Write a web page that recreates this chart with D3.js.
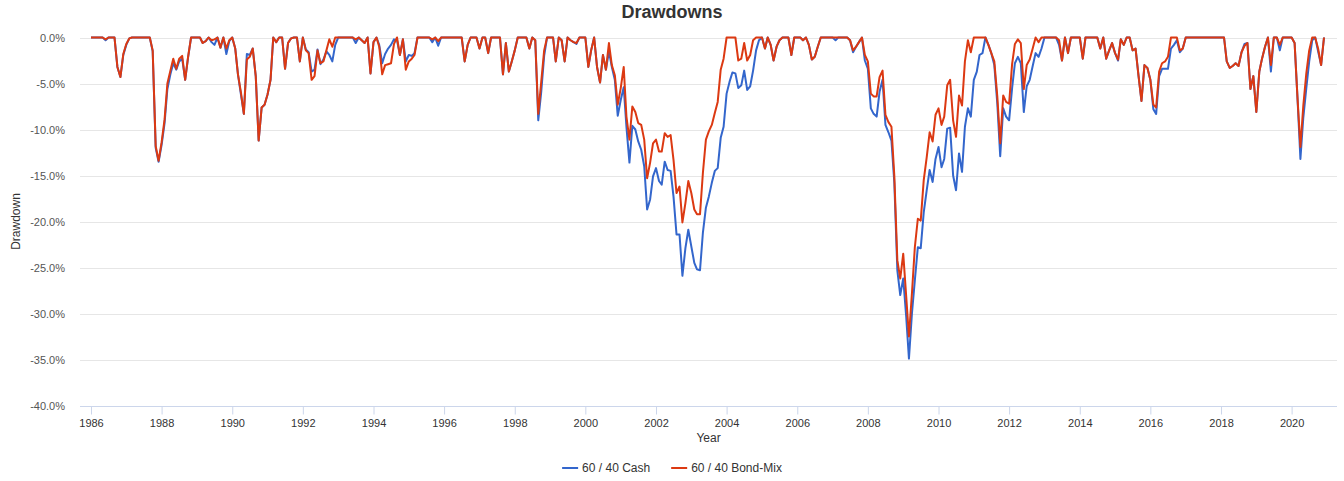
<!DOCTYPE html>
<html>
<head>
<meta charset="utf-8">
<script src="https://cdn.jsdelivr.net/npm/d3@7"></script>
<style>
  body { margin: 0; background: #fff; }
  svg { display: block; font-family: "Liberation Sans", Arial, Helvetica, sans-serif; }
</style>
</head>
<body>
<svg id="chart" width="1344" height="481"></svg>
<script>
// monthly drawdowns in %, Jan 1986 .. Dec 2020, one row per year
const startYear = 1986;
const seriesNames = ["60 / 40 Cash", "60 / 40 Bond-Mix"];
const yTicks = [0, -5, -10, -15, -20, -25, -30, -35, -40];
const xTickYears = [1986, 1988, 1990, 1992, 1994, 1996, 1998, 2000, 2002, 2004, 2006, 2008, 2010, 2012, 2014, 2016, 2018, 2020];

const cash = [
  0, 0, 0, 0, 0, -0.3, 0, 0, 0, -3.2, -4.3, -1.9,
  -0.8, -0.1, 0, 0, 0, 0, 0, 0, 0, -1.5, -12.0, -13.5,
  -11.7, -9.3, -5.6, -4.0, -2.8, -3.5, -2.6, -2.3, -4.6, -2.2, 0, 0,
  0, 0, -0.6, -0.4, 0, -0.5, -0.8, 0, -1.1, 0, -1.8, -0.4,
  0, -1.2, -4.0, -6.2, -8.3, -1.8, -1.9, -1.2, -4.2, -11.2, -7.6, -7.3,
  -6.2, -4.6, 0, -0.5, 0, 0, -3.4, -0.6, -0.1, 0, 0, -2.6,
  0, -1.3, -1.6, -3.7, -3.5, -1.3, -2.9, -2.4, -1.5, -1.9, -2.6, -0.8,
  0, 0, 0, 0, 0, 0, -0.6, 0, -0.3, -0.6, 0, -3.9,
  -0.5, 0, -0.8, -2.8, -1.8, -1.2, -0.8, -0.2, -0.3, -1.9, -0.2, -2.6,
  -1.9, -2.0, -1.7, 0, 0, 0, 0, 0, -0.5, 0, -0.9, 0,
  0, 0, 0, 0, 0, 0, 0, -2.6, -0.8, 0, 0, 0,
  -1.2, 0, 0, -1.7, 0, 0, 0, 0, -4.0, -0.6, -3.7, -2.6,
  -1.4, 0, 0, 0, 0, -1.2, 0, -0.3, -9.0, -6.0, -2.0, 0,
  0, 0, -2.6, 0, -0.3, -2.6, 0, -0.3, -0.5, -0.7, 0, 0,
  0, -3.2, -1.4, 0, -3.2, -4.9, -1.9, -3.5, -1.5, -3.2, -4.6, -8.5,
  -6.8, -5.4, -9.7, -13.6, -9.6, -10.0, -11.3, -12.2, -14.0, -18.7, -17.6, -15.1,
  -14.2, -15.6, -16.0, -13.5, -14.4, -14.5, -17.3, -21.4, -21.4, -25.9, -22.9, -20.9,
  -22.7, -24.5, -25.2, -25.3, -21.2, -18.5, -17.3, -15.8, -14.5, -14.2, -10.9, -9.7,
  -6.1, -4.8, -3.8, -3.9, -5.5, -5.2, -3.6, -5.7, -5.3, -3.6, -1.4, -0.3,
  0, -1.2, 0, -0.8, -2.5, -1.0, -0.3, 0, 0, 0, -1.9, 0,
  0, 0, -0.3, 0, -0.8, -2.4, -2.1, -1.0, 0, 0, 0, 0,
  0, -0.3, 0, 0, 0, 0, -0.3, -1.6, -1.0, -0.5, 0, -2.5,
  -3.4, -7.7, -8.3, -8.6, -5.9, -4.6, -9.5, -10.3, -11.2, -15.8, -25.3, -28.0,
  -26.2, -30.4, -34.9, -30.0, -26.4, -22.8, -22.9, -19.0, -16.6, -14.4, -15.7, -13.2,
  -11.9, -14.1, -13.2, -9.9, -9.8, -15.0, -16.6, -12.6, -14.6, -9.7, -7.7, -8.6,
  -4.6, -3.7, -1.9, -1.7, 0, -0.8, -1.7, -3.0, -7.2, -12.9, -7.7, -8.6,
  -9.0, -5.5, -2.8, -2.1, -2.8, -8.1, -5.3, -4.6, -3.1, -1.7, -2.1, -1.2,
  0, 0, 0, 0, 0, -0.8, -2.5, 0, -1.7, 0, 0, 0,
  0, -2.3, 0, 0, 0, 0, 0, -1.2, 0, -2.3, -1.4, -0.6,
  -1.7, -2.5, -0.2, -0.8, 0, 0, -1.4, -1.2, -4.2, -6.9, -3.0, -3.3,
  -4.6, -7.8, -8.3, -4.2, -3.4, -3.4, -3.4, -1.2, -0.8, -0.3, -1.6, -1.2,
  0, 0, 0, 0, 0, 0, 0, 0, 0, 0, 0, 0,
  0, 0, -2.6, -3.3, -3.1, -2.8, -3.1, -1.6, -0.7, -0.6, -5.6, -4.2,
  -8.1, -3.7, -2.3, -1.0, 0, -3.7, 0, 0, -1.4, 0, 0, 0,
  0, -0.6, -6.4, -13.2, -8.7, -5.5, -2.6, -0.3, 0, -1.5, -3.0, 0
];

const bondMix = [
  0, 0, 0, 0, 0, -0.2, 0, 0, 0, -3.2, -4.3, -1.8,
  -0.7, -0.1, 0, 0, 0, 0, 0, 0, 0, -1.4, -11.8, -13.4,
  -11.4, -8.9, -5.0, -3.6, -2.3, -3.4, -2.3, -2.0, -4.6, -2.1, 0, 0,
  0, 0, -0.6, -0.4, 0, -0.3, -0.2, 0, -1.1, 0, -1.2, -0.3,
  0, -1.2, -4.0, -6.0, -8.3, -2.4, -2.1, -1.2, -4.2, -11.2, -7.6, -7.3,
  -6.2, -4.6, 0, -0.5, 0, 0, -3.4, -0.6, -0.1, 0, 0, -2.6,
  0, -1.4, -1.7, -4.6, -4.2, -1.4, -2.8, -2.6, -1.4, -0.2, -1.0, 0,
  0, 0, 0, 0, 0, 0, -0.2, 0, -0.3, -0.6, 0, -3.9,
  -0.5, 0, -1.0, -4.0, -3.0, -2.9, -2.8, -0.7, 0, -1.9, -0.2, -3.5,
  -2.6, -2.3, -1.9, 0, 0, 0, 0, 0, -0.2, 0, -0.4, 0,
  0, 0, 0, 0, 0, 0, 0, -2.6, -0.8, 0, 0, 0,
  -1.2, 0, 0, -1.7, 0, 0, 0, 0, -4.0, -0.6, -3.7, -2.6,
  -1.4, 0, 0, 0, 0, -1.2, 0, -0.3, -8.3, -4.9, -1.4, 0,
  0, 0, -2.6, 0, -0.3, -2.6, 0, -0.3, -0.5, -0.6, 0, 0,
  0, -3.2, -1.4, 0, -3.2, -4.9, -1.9, -3.5, -0.6, -3.0, -4.1, -7.3,
  -5.5, -3.2, -8.6, -11.1, -7.5, -8.1, -9.3, -9.5, -11.1, -15.3, -13.6, -11.5,
  -11.1, -12.4, -12.4, -10.4, -10.8, -10.6, -13.3, -16.9, -16.2, -20.1, -18.0, -15.6,
  -16.9, -18.7, -19.2, -19.2, -14.7, -11.1, -10.2, -9.5, -8.2, -7.0, -3.5, -2.3,
  0, 0, 0, 0, -2.5, -2.3, -0.6, -2.5, -1.9, -0.3, 0, 0,
  0, -1.2, 0, -0.8, -2.5, -1.0, -0.3, 0, 0, 0, -1.9, 0,
  0, 0, -0.3, 0, -0.8, -2.4, -2.1, -1.0, 0, 0, 0, 0,
  0, 0, 0, 0, 0, 0, -0.3, -1.4, -1.0, -0.5, 0, -1.9,
  -2.6, -6.1, -6.4, -6.4, -4.3, -3.6, -8.4, -9.2, -9.7, -15.1, -24.2, -26.2,
  -23.5, -28.2, -32.5, -27.8, -22.8, -19.7, -19.9, -15.5, -13.0, -10.3, -11.3, -8.4,
  -7.7, -9.5, -8.6, -5.2, -4.6, -9.0, -10.8, -6.3, -7.4, -2.6, -0.3, -1.6,
  0, 0, 0, 0, 0, -0.8, -1.7, -2.6, -6.4, -11.5, -6.3, -7.0,
  -7.2, -2.9, -0.7, -0.2, -0.6, -5.6, -3.0, -2.4, -1.2, 0, -0.5, 0,
  0, 0, 0, 0, 0, -0.3, -2.5, 0, -1.7, 0, 0, 0,
  0, -2.3, 0, 0, 0, 0, 0, -1.2, 0, -2.3, -1.4, -0.6,
  -1.7, -2.4, -0.2, -0.8, 0, 0, -1.4, -1.2, -4.2, -6.9, -3.0, -3.3,
  -4.6, -7.3, -7.6, -3.7, -2.8, -2.6, -2.1, 0, 0, 0, -1.4, -1.2,
  0, 0, 0, 0, 0, 0, 0, 0, 0, 0, 0, 0,
  0, 0, -2.6, -3.3, -3.1, -2.8, -3.1, -1.6, -0.9, -0.6, -5.6, -4.2,
  -8.1, -3.7, -2.3, -1.0, 0, -3.0, 0, 0, -0.8, 0, 0, 0,
  0, -0.6, -6.4, -11.9, -7.4, -3.9, -1.4, 0, 0, -1.2, -3.0, 0
];

const svg = d3.select("#chart");
const width = 1344;

const monthDate = i => new Date(startYear, i, 1);

const x = d3.scaleTime()
  .domain([monthDate(0), monthDate(cash.length - 1)])
  .range([91, 1324]);

const y = d3.scaleLinear()
  .domain([-40, 0])
  .range([405.5, 37.5]);

const plotLeft = 80, plotRight = 1337;

// grid
svg.append("g")
  .selectAll("line")
  .data(yTicks.filter(d => d !== -40))
  .join("line")
  .attr("x1", plotLeft).attr("x2", plotRight)
  .attr("y1", d => Math.round(y(d)) + 0.5).attr("y2", d => Math.round(y(d)) + 0.5)
  .attr("stroke", "#e6e6e6");

// y labels
svg.append("g")
  .selectAll("text")
  .data(yTicks)
  .join("text")
  .attr("x", 65)
  .attr("y", d => y(d) + 4)
  .attr("text-anchor", "end")
  .attr("font-size", 11)
  .attr("fill", "#555")
  .text(d => d.toFixed(1) + "%");

// x axis
const xAxis = svg.append("g")
  .attr("transform", `translate(0,${Math.round(y(-40)) + 0.5})`)
  .call(d3.axisBottom(x)
    .tickValues(xTickYears.map(yr => new Date(yr, 0, 1)))
    .tickFormat(d3.timeFormat("%Y"))
    .tickSize(8)
    .tickPadding(5));
xAxis.select(".domain").remove();
xAxis.selectAll(".tick line").attr("stroke", "#ccd6eb");
xAxis.selectAll(".tick text")
  .attr("font-family", "Liberation Sans, Arial, sans-serif")
  .attr("font-size", 11)
  .attr("fill", "#333");
xAxis.append("line")
  .attr("x1", plotLeft).attr("x2", plotRight)
  .attr("stroke", "#ccd6eb");

// lines
const series = [
  { name: seriesNames[0], values: cash, color: "#3366cc" },
  { name: seriesNames[1], values: bondMix, color: "#dc3912" }
];

const line = d3.line()
  .x((d, i) => x(monthDate(i)))
  .y(d => y(d));

svg.append("g")
  .selectAll("path")
  .data(series)
  .join("path")
  .attr("fill", "none")
  .attr("stroke", d => d.color)
  .attr("stroke-width", 2)
  .attr("stroke-linejoin", "round")
  .attr("d", d => line(d.values));

// titles
svg.append("text")
  .attr("x", width / 2)
  .attr("y", 18)
  .attr("text-anchor", "middle")
  .attr("font-size", 18)
  .attr("font-weight", "bold")
  .attr("fill", "#333")
  .text("Drawdowns");

svg.append("text")
  .attr("transform", `translate(20,${(y(0) + y(-40)) / 2}) rotate(-90)`)
  .attr("text-anchor", "middle")
  .attr("font-size", 12)
  .attr("fill", "#333")
  .text("Drawdown");

svg.append("text")
  .attr("x", (plotLeft + plotRight) / 2)
  .attr("y", 442)
  .attr("text-anchor", "middle")
  .attr("font-size", 12)
  .attr("fill", "#333")
  .text("Year");

// legend
const legend = svg.append("g");
let lx = 0;
series.forEach((s, k) => {
  const g = legend.append("g").attr("transform", `translate(${lx},0)`);
  g.append("line")
    .attr("x1", 0).attr("x2", 16)
    .attr("y1", 468).attr("y2", 468)
    .attr("stroke", s.color).attr("stroke-width", 2);
  const t = g.append("text")
    .attr("x", 20).attr("y", 472)
    .attr("font-size", 12)
    .attr("fill", "#333")
    .text(s.name);
  lx += 20 + t.node().getComputedTextLength() + 21;
});
const legendWidth = lx - 21;
legend.attr("transform", `translate(${width / 2 - legendWidth / 2},0)`);
</script>
</body>
</html>
